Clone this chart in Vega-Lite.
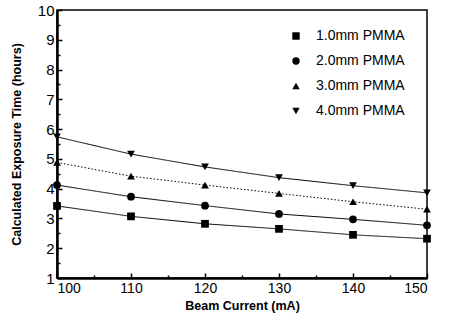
{
  "$schema": "https://vega.github.io/schema/vega-lite/v6.json",
  "width": 370,
  "height": 268,
  "autosize": "none",
  "padding": {"left": 57, "top": 10, "right": 24, "bottom": 50},
  "background": "white",
  "config": {
    "view": {"stroke": "black", "strokeWidth": 1.5},
    "font": "Liberation Sans"
  },
  "data": {
    "values": [
      {"current": 100, "time": 3.42, "series": "1.0mm PMMA"},
      {"current": 110, "time": 3.07, "series": "1.0mm PMMA"},
      {"current": 120, "time": 2.82, "series": "1.0mm PMMA"},
      {"current": 130, "time": 2.65, "series": "1.0mm PMMA"},
      {"current": 140, "time": 2.45, "series": "1.0mm PMMA"},
      {"current": 150, "time": 2.32, "series": "1.0mm PMMA"},
      {"current": 100, "time": 4.12, "series": "2.0mm PMMA"},
      {"current": 110, "time": 3.73, "series": "2.0mm PMMA"},
      {"current": 120, "time": 3.43, "series": "2.0mm PMMA"},
      {"current": 130, "time": 3.15, "series": "2.0mm PMMA"},
      {"current": 140, "time": 2.97, "series": "2.0mm PMMA"},
      {"current": 150, "time": 2.77, "series": "2.0mm PMMA"},
      {"current": 100, "time": 4.88, "series": "3.0mm PMMA"},
      {"current": 110, "time": 4.42, "series": "3.0mm PMMA"},
      {"current": 120, "time": 4.12, "series": "3.0mm PMMA"},
      {"current": 130, "time": 3.84, "series": "3.0mm PMMA"},
      {"current": 140, "time": 3.56, "series": "3.0mm PMMA"},
      {"current": 150, "time": 3.31, "series": "3.0mm PMMA"},
      {"current": 100, "time": 5.74, "series": "4.0mm PMMA"},
      {"current": 110, "time": 5.16, "series": "4.0mm PMMA"},
      {"current": 120, "time": 4.73, "series": "4.0mm PMMA"},
      {"current": 130, "time": 4.37, "series": "4.0mm PMMA"},
      {"current": 140, "time": 4.10, "series": "4.0mm PMMA"},
      {"current": 150, "time": 3.86, "series": "4.0mm PMMA"}
    ]
  },
  "encoding": {
    "x": {
      "field": "current", "type": "quantitative",
      "scale": {"domain": [100, 150], "nice": false, "zero": false},
      "axis": {
        "title": "Beam Current (mA)",
        "values": [100, 105, 110, 115, 120, 125, 130, 135, 140, 145, 150],
        "labelExpr": "datum.value % 10 == 0 ? datum.label : ''",
        "grid": false,
        "domainColor": "black", "domainWidth": 2.5,
        "tickColor": "black", "tickWidth": 1.5,
        "tickSize": {"condition": {"test": "datum.value % 10 != 0", "value": -3}, "value": -5},
        "labelFont": "Liberation Sans", "labelFontSize": 14, "labelColor": "black",
        "labelPadding": 8,
        "titleFont": "Liberation Sans", "titleFontSize": 12.5, "titleFontWeight": "bold",
        "titleColor": "black", "titlePadding": 4
      }
    },
    "y": {
      "field": "time", "type": "quantitative",
      "scale": {"domain": [1, 10], "nice": false, "zero": false},
      "axis": {
        "title": "Calculated Exposure Time  (hours)",
        "values": [1, 1.5, 2, 2.5, 3, 3.5, 4, 4.5, 5, 5.5, 6, 6.5, 7, 7.5, 8, 8.5, 9, 9.5, 10],
        "labelExpr": "datum.value % 1 == 0 ? format(datum.value, 'd') : ''",
        "grid": false,
        "domainColor": "black", "domainWidth": 2.5,
        "tickColor": "black", "tickWidth": 1.5,
        "tickSize": {"condition": {"test": "datum.value % 1 != 0", "value": -3}, "value": -5},
        "labelFont": "Liberation Sans", "labelFontSize": 15, "labelColor": "black",
        "labelPadding": 8,
        "titleFont": "Liberation Sans", "titleFontSize": 12.5, "titleFontWeight": "bold",
        "titleColor": "black", "titlePadding": 14
      }
    }
  },
  "layer": [
    {
      "mark": {"type": "line", "color": "black", "strokeWidth": 1},
      "encoding": {
        "detail": {"field": "series"},
        "strokeDash": {
          "condition": {"test": "datum.series == '3.0mm PMMA'", "value": [1.5, 2]},
          "value": [1, 0]
        }
      }
    },
    {
      "mark": {"type": "point", "filled": true, "color": "black", "opacity": 1},
      "encoding": {
        "shape": {
          "field": "series", "type": "nominal",
          "scale": {"domain": ["1.0mm PMMA", "2.0mm PMMA", "3.0mm PMMA", "4.0mm PMMA"], "range": ["square", "circle", "triangle-up", "triangle-down"]},
          "legend": {
            "title": null, "orient": "none", "legendX": 232, "legendY": 19,
            "labelFont": "Liberation Sans", "labelFontSize": 14, "labelColor": "black",
            "symbolFillColor": "black", "symbolStrokeColor": "black", "symbolSize": 55,
            "rowPadding": 11, "labelOffset": 13
          }
        },
        "size": {"value": 60}
      }
    }
  ]
}
